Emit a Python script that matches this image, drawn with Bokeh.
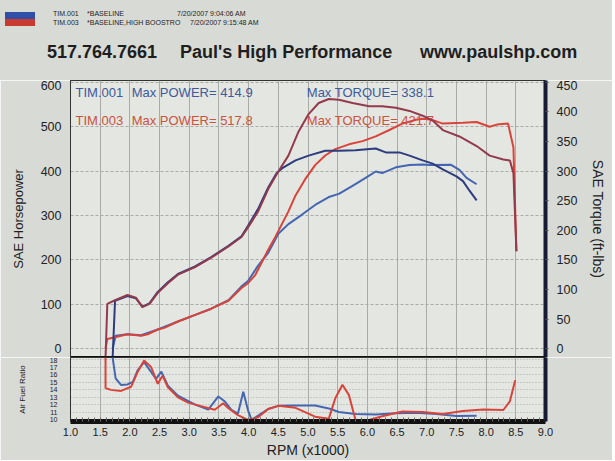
from bokeh.plotting import figure
from bokeh.models import Range1d, LinearAxis, FixedTicker, PrintfTickFormatter, Span, Div
from bokeh.layouts import column
from bokeh.embed import file_html
from bokeh.resources import INLINE
from bokeh.core.properties import value

# ---------------- data (read from the dyno sheet) ----------------
x_ticks = [1.0, 1.5, 2.0, 2.5, 3.0, 3.5, 4.0, 4.5, 5.0, 5.5, 6.0, 6.5, 7.0, 7.5, 8.0, 8.5, 9.0]
hp_ticks = [0, 100, 200, 300, 400, 500, 600]
tq_ticks = [0, 50, 100, 150, 200, 250, 300, 350, 400, 450]
afr_ticks = [10, 11, 12, 13, 14, 15, 16, 17, 18]

runs = ["TIM.001", "TIM.003"]
run_notes = ["*BASELINE", "*BASELINE,HIGH BOOSTRO"]
run_dates = ["7/20/2007 9:04:06 AM", "7/20/2007 9:15:48 AM"]
max_power = [414.9, 517.8]
max_torque = [338.1, 421.7]

# TIM.003 torque (ft-lbs)
rpm_tq3 = [1.59, 1.62, 1.73, 1.96, 2.10, 2.21, 2.33, 2.47, 2.64, 2.81, 3.09, 3.37, 3.66, 3.88, 3.99,
           4.16, 4.33, 4.50, 4.67, 4.84, 5.01, 5.18, 5.35, 5.52, 5.75, 6.03, 6.25, 6.48, 6.71, 6.93,
           7.10, 7.27, 7.55, 7.84, 8.06, 8.29, 8.40, 8.46, 8.51]
tq3 = [-15, 75.5, 80.9, 90.6, 86.2, 70.1, 75.5, 94.3, 110.5, 125.0, 137.4, 153.6, 172.5, 188.7, 204.8,
       231.8, 269.5, 299.1, 326.1, 366.5, 396.2, 415.0, 421.7, 420.5, 415.0, 409.6, 409.6, 406.9, 401.6, 393.5,
       385.4, 369.2, 358.4, 342.3, 326.1, 319.6, 318.0, 296.5, 164.4]

# TIM.001 torque (ft-lbs)
rpm_tq1 = [1.71, 1.75, 1.96, 2.10, 2.21, 2.33, 2.47, 2.64, 2.81, 3.09, 3.37, 3.66, 3.88, 3.99, 4.16,
           4.33, 4.47, 4.56, 4.79, 5.01, 5.29, 5.52, 5.80, 6.14, 6.31, 6.54, 6.71, 6.93, 7.10, 7.27,
           7.50, 7.61, 7.72, 7.84]
tq1 = [-15, 80.9, 88.9, 85.2, 71.1, 76.5, 95.9, 112.1, 126.1, 138.5, 154.7, 173.6, 189.7, 207.5, 236.1,
       272.2, 296.5, 304.5, 318.0, 326.1, 334.2, 334.2, 335.3, 338.1, 331.5, 331.5, 326.1, 318.0, 312.6, 302.9,
       291.1, 283.0, 266.8, 250.6]

# TIM.003 power (SAE HP)
rpm_pw3 = [1.59, 1.62, 1.73, 1.96, 2.19, 2.30, 2.47, 2.58, 2.81, 3.09, 3.37, 3.66, 3.88, 3.99, 4.11,
           4.22, 4.33, 4.45, 4.56, 4.67, 4.79, 4.95, 5.12, 5.29, 5.46, 5.69, 5.92, 6.14, 6.37, 6.59,
           6.82, 6.93, 7.05, 7.16, 7.27, 7.61, 7.84, 8.06, 8.18, 8.37, 8.46, 8.51]
pw3 = [0, 21.6, 25.2, 32.4, 28.8, 32.4, 43.1, 46.7, 61.1, 75.5, 89.9, 107.9, 136.6, 147.4, 165.4,
       194.1, 222.9, 251.7, 280.4, 309.2, 345.1, 381.1, 413.4, 435.0, 449.4, 460.2, 467.4, 478.1, 492.5, 506.9,
       515.5, 517.8, 516.0, 512.0, 506.9, 509.0, 510.5, 499.7, 504.7, 506.9, 453.0, 219.3]

# TIM.001 power (SAE HP)
rpm_pw1 = [1.71, 1.76, 1.96, 2.19, 2.47, 2.81, 3.09, 3.37, 3.66, 3.88, 3.99, 4.16, 4.33, 4.50, 4.67,
           4.90, 5.12, 5.35, 5.52, 5.75, 5.97, 6.14, 6.25, 6.48, 6.71, 6.93, 7.05, 7.41, 7.55, 7.67, 7.84]
pw1 = [0, 28.8, 32.4, 30.2, 43.1, 61.1, 75.5, 89.9, 109.3, 140.2, 152.4, 186.9, 215.7, 258.8, 280.4,
       302.0, 323.6, 341.5, 348.7, 366.7, 384.7, 399.0, 395.5, 408.4, 413.4, 414.9, 413.4, 414.0, 402.6, 384.7, 370.3]

# Air fuel ratio
rpm_afr3 = [1.59, 1.59, 1.68, 1.85, 2.02, 2.13, 2.24, 2.36, 2.47, 2.55, 2.64, 2.81, 2.98, 3.20, 3.43,
            3.57, 3.66, 3.82, 3.99, 4.16, 4.33, 4.50, 4.79, 5.12, 5.35, 5.46, 5.58, 5.69, 5.80, 6.03,
            6.25, 6.59, 6.93, 7.27, 7.61, 7.95, 8.29, 8.40, 8.49]
afr3 = [18.3, 14.24, 14.0, 13.86, 14.41, 16.37, 17.89, 17.0, 14.8, 15.89, 14.34, 13.0, 12.31, 11.84, 11.37,
        12.23, 11.56, 10.64, 10.0, 10.37, 11.46, 11.88, 11.62, 10.44, 10.18, 12.88, 14.67, 13.3, 10.0, 10.0,
        10.49, 11.13, 11.07, 10.79, 11.2, 11.38, 11.33, 12.48, 15.27]
rpm_afr1 = [1.71, 1.72, 1.76, 1.85, 1.96, 2.05, 2.13, 2.24, 2.36, 2.44, 2.53, 2.64, 2.81, 3.09, 3.32,
            3.49, 3.60, 3.71, 3.82, 3.91, 3.99, 4.05, 4.16, 4.33, 4.50, 4.79, 5.12, 5.35, 5.52, 5.80,
            6.14, 6.48, 6.82, 7.16, 7.50, 7.84]
afr1 = [18.3, 17.71, 15.53, 14.65, 14.72, 15.06, 16.59, 17.67, 16.35, 15.46, 16.42, 14.56, 13.22, 12.08, 11.38,
        13.13, 12.45, 11.33, 10.86, 13.75, 11.28, 10.0, 10.59, 11.46, 11.88, 11.93, 11.93, 11.54, 11.06, 10.79,
        10.74, 10.91, 10.95, 10.81, 10.53, 10.57]

# ---------------- styling ----------------
FONT = "Liberation Sans"
PAPER = "#d8dad6"
PLOT_BG = "#e4e6e2"
BLUE_PW = "#4466b2"
BLUE_TQ = "#2c3c7e"
RED_PW = "#d9443a"
RED_TQ = "#933a4c"
BLUE_TXT = "#3d5a9c"
RED_TXT = "#c9533e"
GRID = "#a8aba8"
W = 612
ML, MR = 70, 67
HEAD_H = 80
HP_LO, HP_HI = -20, 604
TQ_LO, TQ_HI = -15, 453

# ---------------- header (HTML text band) ----------------
def span(left, top, size, text, bold=False):
    weight = "bold" if bold else "normal"
    return (f'<span style="position:absolute;left:{left}px;top:{top}px;font-size:{size}px;'
            f'line-height:{size + 2}px;font-weight:{weight};white-space:nowrap;">{text}</span>')

head_html = (
    f'<div style="position:relative;width:{W}px;height:{HEAD_H}px;background:{PAPER};'
    f'font-family:\'{FONT}\',Arial,sans-serif;color:#1e1e1e;overflow:hidden;">'
    '<div style="position:absolute;left:5px;top:12px;width:30px;height:7px;background:#3050a8;"></div>'
    '<div style="position:absolute;left:5px;top:19px;width:30px;height:7px;background:#c83a30;"></div>'
    + span(53, 9, 7, runs[0]) + span(87, 9, 7, run_notes[0]) + span(177, 9, 7, run_dates[0])
    + span(53, 18, 7, runs[1]) + span(87, 18, 7, run_notes[1]) + span(190, 18, 7, run_dates[1])
    + span(47, 42, 18, "517.764.7661", True)
    + span(180, 42, 18, "Paul's High Performance", True)
    + span(420, 42, 18, "www.paulshp.com", True)
    + '</div>'
)
head = Div(text=head_html, width=W, height=HEAD_H, margin=0,
           styles={"background-color": PAPER})

# ---------------- main dyno plot ----------------
xr = Range1d(1.0, 9.0)
p = figure(width=W, height=277, x_range=xr, y_range=Range1d(HP_LO, HP_HI),
           x_axis_location=None, toolbar_location=None, output_backend="svg",
           min_border_left=ML, min_border_right=MR, min_border_top=0, min_border_bottom=0,
           background_fill_color=PLOT_BG, border_fill_color=PAPER,
           outline_line_color="#333333", outline_line_width=1)
p.extra_y_ranges = {"tq": Range1d(TQ_LO, TQ_HI)}

p.xgrid.ticker = FixedTicker(ticks=x_ticks)
p.xgrid.grid_line_color = GRID
p.ygrid.ticker = FixedTicker(ticks=hp_ticks)
p.ygrid.grid_line_color = GRID
p.ygrid.grid_line_dash = "3 2"

ya = p.yaxis[0]
ya.ticker = FixedTicker(ticks=hp_ticks)
ya.axis_label = "SAE Horsepower"
ya.axis_label_text_font = FONT
ya.axis_label_text_font_size = "13px"
ya.axis_label_text_font_style = "normal"
ya.axis_label_text_color = "#222222"
ya.axis_label_standoff = 12
ya.major_label_text_font = FONT
ya.major_label_text_font_size = "12.5px"
ya.major_label_text_color = "#222222"
ya.major_label_standoff = 9
ya.major_tick_out = 0
ya.major_tick_in = 0
ya.minor_tick_out = 0
ya.axis_line_color = "#333333"

ra = LinearAxis(y_range_name="tq", ticker=FixedTicker(ticks=tq_ticks),
                axis_label="SAE Torque (ft-lbs)")
ra.axis_label_text_font = FONT
ra.axis_label_text_font_size = "14px"
ra.axis_label_text_font_style = "normal"
ra.axis_label_text_color = "#222222"
ra.axis_label_standoff = 10
ra.major_label_text_font = FONT
ra.major_label_text_font_size = "12.5px"
ra.major_label_text_color = "#222222"
ra.major_label_standoff = 8
ra.major_tick_out = 3
ra.major_tick_in = 0
ra.minor_tick_out = 0
ra.axis_line_width = 4
ra.axis_line_color = "#161a34"
ra.major_tick_line_color = "#555555"
p.add_layout(ra, "right")

p.add_layout(Span(location=HP_LO, dimension="width", line_color="#111111", line_width=3))

# annotation text (drawn under the curves)
p.text(x=[1.085, 2.03, 4.98], y=[578, 578, 578],
       text=[runs[0], f"Max POWER= {max_power[0]}", f"Max TORQUE= {max_torque[0]}"],
       text_font=value(FONT), text_font_size="13px", text_color=BLUE_TXT,
       text_baseline="middle", text_align="left")
p.text(x=[1.085, 2.03, 4.98], y=[515, 515, 515],
       text=[runs[1], f"Max POWER= {max_power[1]}", f"Max TORQUE= {max_torque[1]}"],
       text_font=value(FONT), text_font_size="13px", text_color=RED_TXT,
       text_baseline="middle", text_align="left")

p.line(rpm_pw1, pw1, line_color=BLUE_PW, line_width=2)
p.line(rpm_pw3, pw3, line_color=RED_PW, line_width=2)
p.line(rpm_tq1, tq1, y_range_name="tq", line_color=BLUE_TQ, line_width=2)
p.line(rpm_tq3, tq3, y_range_name="tq", line_color=RED_TQ, line_width=2)

# ---------------- air fuel ratio panel ----------------
a = figure(width=W, height=103, x_range=xr, y_range=Range1d(9.8, 18.3),
           toolbar_location=None, output_backend="svg",
           min_border_left=ML, min_border_right=MR, min_border_top=0, min_border_bottom=0,
           background_fill_color=PLOT_BG, border_fill_color=PAPER,
           outline_line_color="#333333")
minor_x = [round(1.0 + 0.1 * i, 1) for i in range(81)]
xa = a.xaxis[0]
xa.ticker = FixedTicker(ticks=x_ticks, minor_ticks=minor_x)
xa.formatter = PrintfTickFormatter(format="%.1f")
xa.axis_label = "RPM (x1000)"
xa.axis_label_text_font = FONT
xa.axis_label_text_font_size = "14px"
xa.axis_label_text_font_style = "normal"
xa.axis_label_text_color = "#222222"
xa.axis_label_standoff = 3
xa.major_label_text_font = FONT
xa.major_label_text_font_size = "11px"
xa.major_label_text_color = "#222222"
xa.major_label_standoff = 6
xa.major_tick_out = 0
xa.major_tick_in = 0
xa.minor_tick_out = 0
xa.minor_tick_in = 4
xa.minor_tick_line_color = "#666666"
xa.axis_line_width = 5
xa.axis_line_color = "#111111"

yb = a.yaxis[0]
yb.ticker = FixedTicker(ticks=afr_ticks)
yb.axis_label = "Air Fuel Ratio"
yb.axis_label_text_font = FONT
yb.axis_label_text_font_size = "8px"
yb.axis_label_text_font_style = "normal"
yb.axis_label_text_color = "#222222"
yb.axis_label_standoff = 20
yb.major_label_text_font = FONT
yb.major_label_text_font_size = "7px"
yb.major_label_text_color = "#222222"
yb.major_label_standoff = 13
yb.major_tick_out = 0
yb.major_tick_in = 0
yb.minor_tick_out = 0
yb.axis_line_color = "#333333"

rb = LinearAxis(ticker=FixedTicker(ticks=[]))
rb.major_label_text_font_size = "0px"
rb.major_tick_out = 0
rb.minor_tick_out = 0
rb.axis_line_width = 4
rb.axis_line_color = "#161a34"
a.add_layout(rb, "right")

a.xgrid.ticker = FixedTicker(ticks=x_ticks)
a.xgrid.grid_line_color = GRID
a.ygrid.ticker = FixedTicker(ticks=afr_ticks)
a.ygrid.grid_line_color = GRID
a.ygrid.grid_line_dash = "1 2"

a.line(rpm_afr1, afr1, line_color=BLUE_PW, line_width=2)
a.line(rpm_afr3, afr3, line_color=RED_PW, line_width=2)

layout = column(head, p, a, spacing=0)
open("out.html", "w").write(file_html(layout, INLINE, "Dyno"))
